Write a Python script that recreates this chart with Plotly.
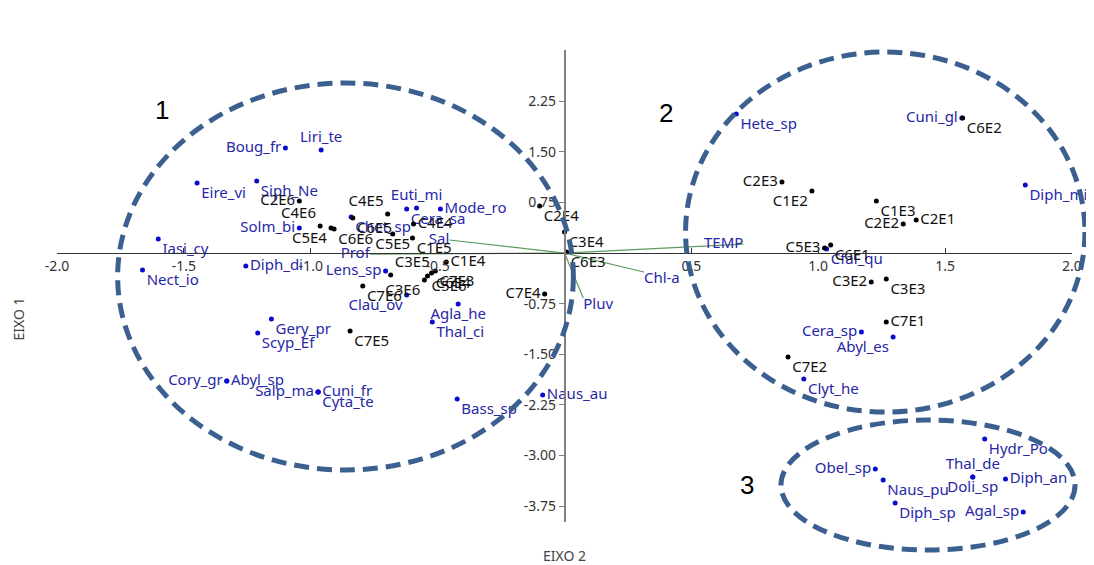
import plotly.graph_objects as go

# ---------------- data ----------------
species_names = ["Hete_sp", "Cuni_gl", "Diph_mi", "Cfal_qu", "Cera_sp", "Abyl_es", "Clyt_he",
                 "Hydr_Po", "Obel_sp", "Thal_de", "Doli_sp", "Naus_pu", "Diph_an", "Diph_sp", "Agal_sp",
                 "Boug_fr", "Liri_te", "Eire_vi", "Siph_Ne", "Solm_bi", "Iasi_cy", "Nect_io", "Diph_di",
                 "Gery_pr", "Scyp_Ef", "Cory_gr", "Abyl_sp", "Salp_ma", "Cuni_fr", "Cyta_te",
                 "Bass_sp", "Naus_au", "Agla_he", "Thal_ci", "Clau_ov", "Lens_sp", "Chet_sp",
                 "Euti_mi", "Cera_sa", "Mode_ro"]
species_x = [0.677, 1.566, 1.816, 1.033, 1.170, 1.295, 0.943,
             1.656, 1.225, 1.609, 1.609, 1.256, 1.738, 1.303, 1.808,
             -1.100, -0.959, -1.448, -1.213, -1.045, -1.601, -1.663, -1.256,
             -1.155, -1.209, -1.331, -1.331, -0.971, -0.971, -0.971,
             -0.423, -0.086, -0.419, -0.521, -0.622, -0.705, -0.841,
             -0.583, -0.622, -0.489]
species_y = [2.059, 2.000, 1.007, 0.059, -1.170, -1.244, -1.867,
             -2.756, -3.200, -3.319, -3.319, -3.363, -3.348, -3.704, -3.837,
             1.556, 1.526, 1.037, 1.067, 0.370, 0.207, -0.252, -0.193,
             -0.978, -1.185, -1.896, -1.896, -2.059, -2.059, -2.059,
             -2.163, -2.104, -0.756, -1.022, -0.622, -0.267, 0.533,
             0.667, 0.652, 0.652]
species_pos = ["bottom right", "middle left", "bottom right", "bottom right", "middle left", "bottom left", "bottom right",
               "bottom right", "middle left", "top center", "bottom center", "bottom right", "middle right", "bottom right", "middle left",
               "middle left", "top center", "bottom right", "bottom right", "middle left", "bottom right", "bottom right", "middle right",
               "bottom right", "bottom right", "middle left", "middle right", "middle left", "middle right", "bottom right",
               "bottom right", "middle right", "bottom center", "bottom right", "bottom left", "middle left", "bottom right",
               "top center", "bottom right", "middle right"]

site_names = ["C2E3", "C1E2", "C6E2", "C1E3", "C2E2", "C2E1", "C5E3", "C6E1", "C3E2", "C3E3",
              "C7E1", "C7E2", "C2E4", "C3E4", "C6E3", "C7E4", "C2E6", "C4E6", "C5E4", "C6E6",
              "C6E5", "C4E5", "C5E5", "C4E4", "C1E5", "C3E5", "C1E4", "C3E6", "C5E6", "C6E4",
              "C7E3", "C7E6", "C7E5"]
site_x = [0.857, 0.975, 1.569, 1.229, 1.335, 1.386, 1.025, 1.049, 1.209, 1.268,
          1.268, 0.881, -0.098, 0.000, 0.008, -0.078, -1.045, -0.963, -0.920, -0.908,
          -0.834, -0.697, -0.677, -0.595, -0.599, -0.685, -0.466, -0.552, -0.540, -0.524,
          -0.509, -0.795, -0.845]
site_y = [1.052, 0.919, 2.000, 0.770, 0.430, 0.489, 0.074, 0.119, -0.430, -0.385,
          -1.022, -1.541, 0.696, 0.311, 0.015, -0.607, 0.770, 0.400, 0.370, 0.356,
          0.519, 0.578, 0.281, 0.430, 0.222, -0.326, -0.133, -0.400, -0.341, -0.296,
          -0.267, -0.489, -1.156]
site_pos = ["middle left", "bottom left", "bottom right", "bottom right", "middle left", "middle right",
            "middle left", "bottom right", "middle left", "bottom right",
            "middle right", "bottom right", "bottom right", "bottom right", "bottom right", "middle left",
            "middle left", "top left", "bottom left", "bottom right",
            "bottom right", "top left", "bottom center", "middle right", "bottom right", "top right",
            "middle right", "bottom left", "bottom right", "bottom right",
            "bottom right", "bottom right", "bottom right"]

env_names = ["TEMP", "Chl-a", "Pluv", "Sal", "Prof"]
env_x = [0.705, 0.313, 0.074, -0.454, -0.767]
env_y = [0.133, -0.281, -0.667, 0.193, -0.015]
env_pos = ["middle left", "bottom right", "bottom right", "middle left", "middle left"]

x_tick_vals = [-2.0, -1.5, -1.0, -0.5, 0.5, 1.0, 1.5, 2.0]
x_tick_text = ["-2.0", "-1.5", "-1.0", "-0.5", "0.5", "1.0", "1.5", "2.0"]
y_tick_vals = [2.25, 1.50, 0.75, -0.75, -1.50, -2.25, -3.00, -3.75]
y_tick_text = ["2.25", "1.50", "0.75", "-0.75", "-1.50", "-2.25", "-3.00", "-3.75"]

group_labels = ["1", "2", "3"]
group_label_x = [-1.585, 0.40, 0.72]
group_label_y = [2.12, 2.07, -3.44]
# group ellipses: (xmin, xmax, ymin, ymax) in axis units
group_ellipses = [(-1.761, 0.035, -3.215, 2.519),
                  (0.477, 2.051, -2.356, 2.978),
                  (0.853, 2.012, -4.40, -2.474)]

# ---------------- figure ----------------
X_RANGE = [-2.0, 2.0]
Y_RANGE = [-3.985, 3.008]
FONT = "Noto Sans"
BLUE_TXT = "#2727a8"
BLUE_MK = "#0b0bd0"
LBL_SIZE = 15

fig = go.Figure()

# environmental vectors
vx, vy = [], []
for ex, ey in zip(env_x, env_y):
    vx += [0, ex, None]
    vy += [0, ey, None]
fig.add_trace(go.Scatter(x=vx, y=vy, mode="lines", line=dict(color="#5c9c5c", width=1.2),
                         hoverinfo="skip", showlegend=False))
fig.add_trace(go.Scatter(x=env_x, y=env_y, mode="text", text=env_names, textposition=env_pos,
                         textfont=dict(family=FONT, size=LBL_SIZE, color=BLUE_TXT), cliponaxis=False,
                         showlegend=False))

# species
fig.add_trace(go.Scatter(x=species_x, y=species_y, mode="markers+text", text=species_names,
                         textposition=species_pos,
                         marker=dict(color=BLUE_MK, size=5),
                         textfont=dict(family=FONT, size=LBL_SIZE, color=BLUE_TXT), cliponaxis=False,
                         showlegend=False))
# sites
fig.add_trace(go.Scatter(x=site_x, y=site_y, mode="markers+text", text=site_names,
                         textposition=site_pos,
                         marker=dict(color="black", size=5),
                         textfont=dict(family=FONT, size=LBL_SIZE, color="#111111"), cliponaxis=False,
                         showlegend=False))


def to_paper_x(v):
    return (v - X_RANGE[0]) / (X_RANGE[1] - X_RANGE[0])


def to_paper_y(v):
    return (v - Y_RANGE[0]) / (Y_RANGE[1] - Y_RANGE[0])


for (ex0, ex1, ey0, ey1) in group_ellipses:
    fig.add_shape(type="circle", xref="paper", yref="paper",
                  x0=to_paper_x(ex0), x1=to_paper_x(ex1), y0=to_paper_y(ey0), y1=to_paper_y(ey1),
                  line=dict(color="#3b6090", width=5, dash="15px,8px"))

for lab, gx, gy in zip(group_labels, group_label_x, group_label_y):
    fig.add_annotation(x=gx, y=gy, text=lab, showarrow=False,
                       font=dict(family="Liberation Sans", size=26, color="black"))

fig.add_annotation(x=0.5, y=-0.07, xref="paper", yref="paper", text="EIXO 2", showarrow=False,
                   xanchor="center", yanchor="middle",
                   font=dict(family=FONT, size=14, color="#444444"))
fig.add_annotation(x=-0.038, y=0.43, xref="paper", yref="paper", text="EIXO 1", showarrow=False,
                   xanchor="center", yanchor="middle",
                   textangle=-90, font=dict(family=FONT, size=14, color="#444444"))

# The page body adds an 8px offset, so the figure is 8px smaller than the window.
fig.update_layout(
    width=1086, height=557,
    margin=dict(l=49, r=15, t=42, b=43),
    paper_bgcolor="white", plot_bgcolor="white",
    showlegend=False,
    xaxis=dict(range=X_RANGE, anchor="free", position=to_paper_y(0), showgrid=False, zeroline=False,
               showline=True, linecolor="#333333", linewidth=1, ticks="inside", ticklen=5,
               tickcolor="#333333", tickvals=x_tick_vals, ticktext=x_tick_text,
               tickfont=dict(family=FONT, size=14, color="#333333")),
    yaxis=dict(range=Y_RANGE, anchor="free", position=to_paper_x(0), showgrid=False, zeroline=False,
               showline=True, linecolor="#808080", linewidth=1.5, ticks="outside", ticklen=5,
               tickcolor="#808080", tickvals=y_tick_vals, ticktext=y_tick_text,
               tickfont=dict(family=FONT, size=14, color="#333333")),
)

fig.write_html("out.html")
